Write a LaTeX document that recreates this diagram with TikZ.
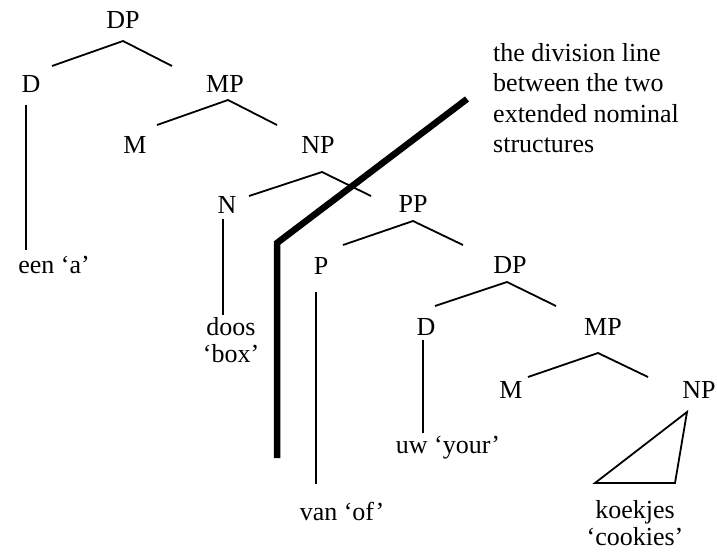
\documentclass[tikz,border=0pt]{standalone}
\usepackage{fontspec}
\setmainfont{Liberation Serif}
\usetikzlibrary{calc}

\begin{document}
\begin{tikzpicture}[
        x=1pt, y=-1pt,
        cat/.style={inner sep=0pt, font=\fontsize{26}{27}\selectfont},
        word/.style={inner sep=0pt, align=center, font=\fontsize{26}{27}\selectfont},
        branch/.style={line width=1.8pt},
        divide/.style={line width=6.5pt}
    ]
        \useasboundingbox (0,0) rectangle (717,555);

        % upper nominal structure
        \node[cat] (dp) at (123,20) {DP};
        \node[cat] (d) at (31,84) {D};
        \node[cat] (mp) at (225,84) {MP};
        \node[cat] (m) at (135,145) {M};
        \node[cat] (np) at (318,145) {NP};
        \node[cat] (n) at (227,205) {N};
        \node[cat] (pp) at (413,204) {PP};
        \node[cat] (p) at (321,266) {P};

        % lower nominal structure
        \node[cat] (dp2) at (510,265) {DP};
        \node[cat] (d2) at (426,327) {D};
        \node[cat] (mp2) at (603,327) {MP};
        \node[cat] (m2) at (511,390) {M};
        \node[cat] (np2) at (699,390) {NP};

        % words
        \node[word, anchor=base] (een) at (54,273) {een `a'};
        \node[word, anchor=north] (doos) at (231,317) {doos\\`box'};
        \node[word, anchor=base] (van) at (342,520) {van `of'};
        \node[word, anchor=base] (uw) at (448,453) {uw `your'};
        \node[word, anchor=north] (koekjes) at (635,500) {koekjes\\`cookies'};
        \node[word, anchor=north west, align=left,
              font=\fontsize{26}{30.5}\selectfont] (note) at (493,43)
            {the division line\\between the two\\extended nominal\\structures};

        \draw[branch] ([shift={(21,-18)}]d.center) -- ([shift={(0,21)}]dp.center) -- ([shift={(-53,-18)}]mp.center);
        \draw[branch] ([shift={(22,-20)}]m.center) -- ([shift={(3,16)}]mp.center) -- ([shift={(-41,-20)}]np.center);
        \draw[branch] ([shift={(22,-9)}]n.center) -- ([shift={(4,27)}]np.center) -- ([shift={(-42,-8)}]pp.center);
        \draw[branch] ([shift={(22,-21)}]p.center) -- ([shift={(0,17)}]pp.center) -- ([shift={(-47,-20)}]dp2.center);
        \draw[branch] ([shift={(9,-21)}]d2.center) -- ([shift={(-3,17)}]dp2.center) -- ([shift={(-47,-21)}]mp2.center);
        \draw[branch] ([shift={(17,-13)}]m2.center) -- ([shift={(-5,26)}]mp2.center) -- ([shift={(-51,-13)}]np2.center);

        \draw[branch] ([shift={(-5,21)}]d.center) -- ([shift={(-28,-23)}]een.base);
        \draw[branch] ([shift={(-4,14)}]n.center) -- ([shift={(-8,-2)}]doos.north);
        \draw[branch] ([shift={(-5,26)}]p.center) -- ([shift={(-26,-36)}]van.base);
        \draw[branch] ([shift={(-3,13)}]d2.center) -- ([shift={(-25,-20)}]uw.base);
        \draw[branch] ([shift={(-12,22)}]np2.center) -- ([shift={(-40,-17)}]koekjes.north)
            -- ([shift={(40,-17)}]koekjes.north) -- cycle;

        % the division line
        \draw[divide] (467,99) -- (277,243) -- (277,458);
    \end{tikzpicture}
\end{document}
